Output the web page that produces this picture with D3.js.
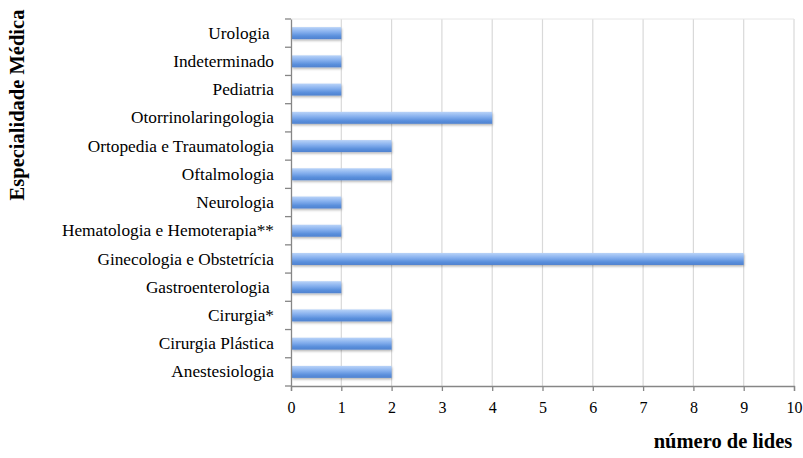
<!DOCTYPE html>
<html><head><meta charset="utf-8">
<script src="https://cdn.jsdelivr.net/npm/d3@7"></script>
<style>body{margin:0;background:#fff}svg{display:block}</style>
</head><body>
<script>
const categories = ["Urologia ","Indeterminado","Pediatria","Otorrinolaringologia","Ortopedia e Traumatologia","Oftalmologia","Neurologia","Hematologia e Hemoterapia**","Ginecologia e Obstetrícia","Gastroenterologia ","Cirurgia*","Cirurgia Plástica","Anestesiologia"];
const values = [1,1,1,4,2,2,1,1,9,1,2,2,2];
const xTicks = [0,1,2,3,4,5,6,7,8,9,10];

(function(){
const FF="'Liberation Serif', 'Times New Roman', Tinos, serif";
const W=803,H=458, mL=291, mR=794, mT=19, mB=386;
const svg=d3.select("body").append("svg").attr("width",W).attr("height",H);
const defs=svg.append("defs");
const g=defs.append("linearGradient").attr("id","bg").attr("x1",0).attr("y1",0).attr("x2",0).attr("y2",1);
g.append("stop").attr("offset","0%").attr("stop-color","#b9d3f8");
g.append("stop").attr("offset","40%").attr("stop-color","#86b0ee");
g.append("stop").attr("offset","75%").attr("stop-color","#5a8fdc");
g.append("stop").attr("offset","100%").attr("stop-color","#4f82cf");
const f=defs.append("filter").attr("id","sh").attr("x","-5%").attr("y","-30%").attr("width","110%").attr("height","180%");
f.append("feDropShadow").attr("dx",0.5).attr("dy",1.5).attr("stdDeviation",1).attr("flood-color","#000").attr("flood-opacity",0.3);

const x=d3.scaleLinear().domain([0,10]).range([mL,mR]);
const y=d3.scaleBand().domain(categories).range([mT,mB]);

svg.append("g").selectAll("line").data(xTicks.slice(1)).join("line")
  .attr("x1",d=>x(d)).attr("x2",d=>x(d)).attr("y1",mT).attr("y2",mB)
  .attr("stroke","#d9d9d9").attr("stroke-width",1.2);
svg.append("line").attr("x1",mL).attr("x2",mR).attr("y1",mT).attr("y2",mT).attr("stroke","#e6e6e6");

const bh=12;
svg.append("g").selectAll("rect").data(categories).join("rect")
  .attr("x",x(0)+1).attr("y",(d)=>y(d)+y.bandwidth()/2-bh/2)
  .attr("width",(d,i)=>x(values[i])-x(0)-1).attr("height",bh)
  .attr("fill","url(#bg)").attr("filter","url(#sh)");

const ya=svg.append("g").attr("transform",`translate(${mL},0)`)
  .call(d3.axisLeft(y).tickSize(0).tickPadding(17));
ya.select(".domain").attr("stroke","#868686").attr("stroke-width",1.3);
ya.selectAll("text").style("font-family",FF).style("font-size","17.3px").attr("fill","#000").style("white-space","pre");
const ytk=y.domain().map(d=>y(d)).concat([mB]);
svg.append("g").selectAll("line").data(ytk).join("line")
  .attr("x1",mL-6).attr("x2",mL).attr("y1",d=>d).attr("y2",d=>d)
  .attr("stroke","#868686").attr("stroke-width",1.3);

const xa=svg.append("g").attr("transform",`translate(0,${mB})`)
  .call(d3.axisBottom(x).tickValues(xTicks).tickSize(5).tickPadding(11).tickFormat(d3.format("d")));
xa.select(".domain").attr("stroke","#868686").attr("stroke-width",1.3);
xa.selectAll(".tick line").attr("stroke","#868686").attr("stroke-width",1.3);
xa.selectAll("text").style("font-family",FF).style("font-size","16px").attr("fill","#000");

svg.append("text").attr("x",723).attr("y",448).attr("text-anchor","middle")
  .style("font-family",FF).style("font-size","20.5px").style("font-weight","bold").text("número de lides");
svg.append("text").attr("transform","translate(24,105) rotate(-90)").attr("text-anchor","middle")
  .style("font-family",FF).style("font-size","20.5px").style("font-weight","bold").text("Especialidade Médica");
})();
</script>
</body></html>
